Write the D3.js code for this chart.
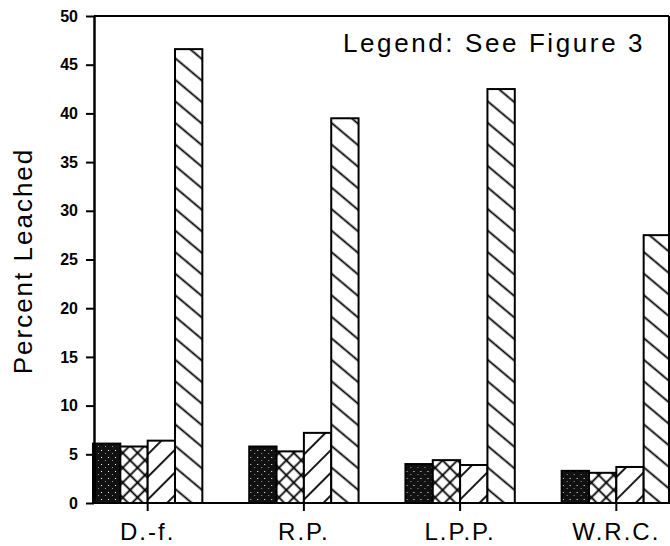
<!DOCTYPE html>
<html>
<head>
<meta charset="utf-8">
<script src="https://cdn.jsdelivr.net/npm/d3@7.9.0/dist/d3.min.js"></script>
<style>
  html, body { margin: 0; padding: 0; background: #fff; }
  svg { display: block; }
</style>
</head>
<body>
<svg></svg>
<script>
const width = 670;
const height = 546;

// species groups along the x axis
const categories = ["D.-f.", "R.P.", "L.P.P.", "W.R.C."];
// four treatments (legend is in Figure 3), values are percent leached
const solidValues = [6.1, 5.8, 4.0, 3.3];
const crossValues = [5.8, 5.3, 4.4, 3.1];
const diagValues = [6.4, 7.2, 3.9, 3.7];
const backDiagValues = [46.6, 39.5, 42.5, 27.5];
const yTicks = [0, 5, 10, 15, 20, 25, 30, 35, 40, 45, 50];

const series = [
  { key: "solid", values: solidValues, fill: "url(#stipple)" },
  { key: "cross", values: crossValues, fill: "url(#cross)" },
  { key: "diag", values: diagValues, fill: "url(#diag)" },
  { key: "backdiag", values: backDiagValues, fill: "url(#backdiag)" }
];

const plotLeft = 94, plotRight = 669, plotTop = 16, plotBottom = 503;
const font = "'Liberation Sans', Arial, sans-serif";

const svg = d3.select("svg")
    .attr("width", width)
    .attr("height", height);

// hatch patterns
const defs = svg.append("defs");

const stip = defs.append("pattern")
    .attr("id", "stipple")
    .attr("patternUnits", "userSpaceOnUse")
    .attr("width", 7).attr("height", 7);
stip.append("rect").attr("width", 7).attr("height", 7).attr("fill", "#111");
stip.append("rect").attr("x", 1).attr("y", 2).attr("width", 1).attr("height", 1).attr("fill", "#fff");
stip.append("rect").attr("x", 5).attr("y", 5).attr("width", 1).attr("height", 1).attr("fill", "#999");

function hatch(id, size, angle, both) {
  const p = defs.append("pattern")
      .attr("id", id)
      .attr("patternUnits", "userSpaceOnUse")
      .attr("width", size).attr("height", size)
      .attr("patternTransform", `rotate(${angle})`);
  p.append("rect").attr("width", size).attr("height", size).attr("fill", "#fff");
  p.append("line")
      .attr("x1", 0).attr("x2", size)
      .attr("y1", size / 2).attr("y2", size / 2)
      .attr("stroke", "#000").attr("stroke-width", 1.8);
  if (both) {
    p.append("line")
        .attr("y1", 0).attr("y2", size)
        .attr("x1", size / 2).attr("x2", size / 2)
        .attr("stroke", "#000").attr("stroke-width", 1.8);
  }
}
hatch("cross", 10.5, 45, true);
hatch("diag", 16, -45, false);
hatch("backdiag", 16.5, 40, false);

const x = d3.scaleBand()
    .domain(categories)
    .range([93, 671])
    .paddingInner(0.3)
    .paddingOuter(0);

const xInner = d3.scaleBand()
    .domain(series.map(s => s.key))
    .range([0, x.bandwidth()]);

const y = d3.scaleLinear()
    .domain([0, 50])
    .range([plotBottom, plotTop]);

// bars
const groups = svg.selectAll(".group")
    .data(categories)
    .enter().append("g")
    .attr("class", "group")
    .attr("transform", d => `translate(${x(d)},0)`);

groups.selectAll("rect")
    .data((c, i) => series.map(s => ({ key: s.key, fill: s.fill, value: s.values[i] })))
    .enter().append("rect")
    .attr("x", d => xInner(d.key))
    .attr("width", xInner.bandwidth())
    .attr("y", d => y(d.value))
    .attr("height", d => y(0) - y(d.value))
    .attr("fill", d => d.fill)
    .attr("stroke", "#000")
    .attr("stroke-width", 2);

// frame top and right
svg.append("line")
    .attr("x1", plotLeft).attr("x2", plotRight)
    .attr("y1", plotTop).attr("y2", plotTop)
    .attr("stroke", "#000").attr("stroke-width", 2);
svg.append("line")
    .attr("x1", plotRight).attr("x2", plotRight)
    .attr("y1", plotTop).attr("y2", plotBottom)
    .attr("stroke", "#000").attr("stroke-width", 2);

// y axis
const yAxis = svg.append("g")
    .attr("transform", `translate(${plotLeft},0)`)
    .call(d3.axisLeft(y).tickValues(yTicks).tickSize(8).tickPadding(8).tickSizeOuter(0));
yAxis.select(".domain").attr("stroke-width", 2.5);
yAxis.selectAll(".tick line").attr("stroke-width", 2);
yAxis.selectAll(".tick text")
    .attr("font-family", font)
    .attr("font-size", 16)
    .attr("font-weight", "bold")
    .attr("fill", "#000");

// x axis
const xAxis = svg.append("g")
    .attr("transform", `translate(0,${plotBottom})`)
    .call(d3.axisBottom(x).tickSize(8).tickPadding(12).tickSizeOuter(0));
xAxis.select(".domain").attr("d", `M${plotLeft},0H${plotRight}`).attr("stroke-width", 2);
xAxis.selectAll(".tick line").attr("stroke-width", 2);
xAxis.selectAll(".tick text")
    .attr("font-family", font)
    .attr("font-size", 24)
    .attr("letter-spacing", 2)
    .attr("fill", "#000");

// y axis title
svg.append("text")
    .attr("transform", "translate(32,261) rotate(-90)")
    .attr("text-anchor", "middle")
    .attr("font-family", font)
    .attr("font-size", 26)
    .attr("letter-spacing", 2)
    .text("Percent Leached");

// legend note
svg.append("text")
    .attr("x", 343)
    .attr("y", 52)
    .attr("font-family", font)
    .attr("font-size", 26)
    .attr("letter-spacing", 2.6)
    .text("Legend: See Figure 3");
</script>
</body>
</html>
